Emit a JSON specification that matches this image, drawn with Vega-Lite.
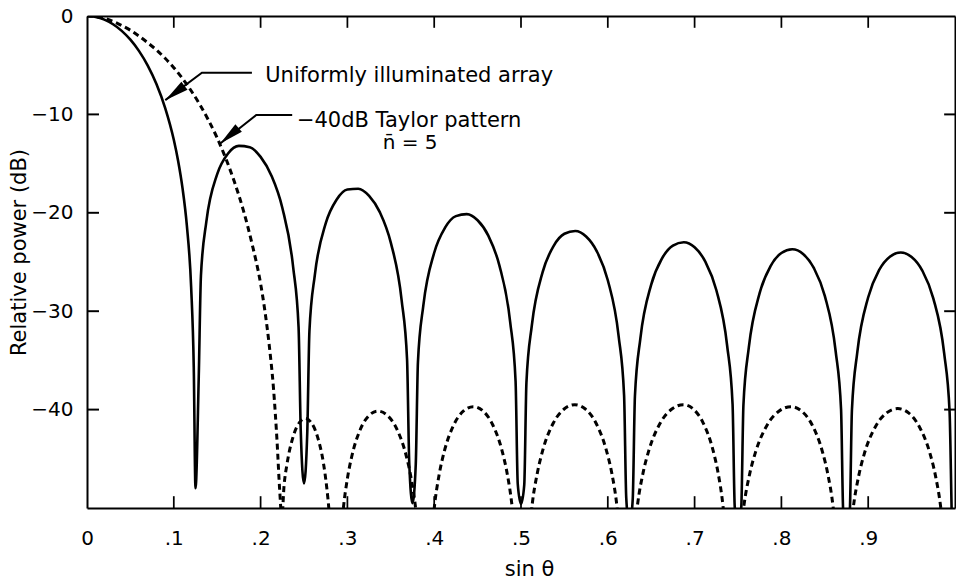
{
  "$schema": "https://vega.github.io/schema/vega-lite/v6.json",
  "width": 868,
  "height": 492,
  "autosize": "none",
  "padding": {"left": 87, "top": 16, "right": 1, "bottom": 71},
  "background": "white",
  "config": {
    "font": "DejaVu Sans",
    "view": {"stroke": null},
    "axis": {
      "grid": false,
      "ticks": false,
      "domainColor": "#000",
      "domainWidth": 2,
      "labelColor": "#000",
      "titleColor": "#000",
      "labelFont": "DejaVu Sans",
      "titleFont": "DejaVu Sans",
      "labelFontSize": 20,
      "titleFontSize": 21,
      "titleFontWeight": "normal",
      "labelOverlap": false,
      "labelFlush": false
    }
  },
  "datasets": {
    "uniform": [
      {"u": 0, "db": 0}, {"u": 0.01, "db": -0.09}, {"u": 0.02, "db": -0.37}, {"u": 0.03, "db": -0.84},
      {"u": 0.04, "db": -1.51}, {"u": 0.05, "db": -2.41}, {"u": 0.06, "db": -3.57}, {"u": 0.07, "db": -5.04},
      {"u": 0.08, "db": -6.91}, {"u": 0.09, "db": -9.33}, {"u": 0.1, "db": -12.58}, {"u": 0.105, "db": -14.73},
      {"u": 0.11, "db": -17.47}, {"u": 0.115, "db": -21.26}, {"u": 0.12, "db": -27.58}, {"u": 0.123, "db": -35.7},
      {"u": 0.125, "db": -48},
      {"u": 0.12875, "db": -36.67}, {"u": 0.13125, "db": -26.42}, {"u": 0.1375, "db": -20.9}, {"u": 0.15, "db": -16.07},
      {"u": 0.1625, "db": -13.97}, {"u": 0.175, "db": -13.2}, {"u": 0.1875, "db": -13.34}, {"u": 0.2, "db": -14.32},
      {"u": 0.2125, "db": -16.23}, {"u": 0.225, "db": -19.49}, {"u": 0.2375, "db": -25.52}, {"u": 0.24375, "db": -31.64},
      {"u": 0.24625, "db": -42.14}, {"u": 0.25, "db": -47.5},
      {"u": 0.25375, "db": -42.38}, {"u": 0.25625, "db": -32.03}, {"u": 0.2625, "db": -26.3}, {"u": 0.275, "db": -21.08},
      {"u": 0.2875, "db": -18.67}, {"u": 0.3, "db": -17.63}, {"u": 0.3125, "db": -17.55}, {"u": 0.325, "db": -18.28},
      {"u": 0.3375, "db": -19.96}, {"u": 0.35, "db": -23.03}, {"u": 0.3625, "db": -28.89}, {"u": 0.36875, "db": -34.94},
      {"u": 0.37125, "db": -45.42}, {"u": 0.375, "db": -49.5},
      {"u": 0.37875, "db": -45.58}, {"u": 0.38125, "db": -35.2}, {"u": 0.3875, "db": -29.41}, {"u": 0.4, "db": -24.06},
      {"u": 0.4125, "db": -21.51}, {"u": 0.425, "db": -20.34}, {"u": 0.4375, "db": -20.13}, {"u": 0.45, "db": -20.76},
      {"u": 0.4625, "db": -22.35}, {"u": 0.475, "db": -25.32}, {"u": 0.4875, "db": -31.08}, {"u": 0.49375, "db": -37.09},
      {"u": 0.49625, "db": -47.55}, {"u": 0.5, "db": -49.6},
      {"u": 0.50375, "db": -47.65}, {"u": 0.50625, "db": -37.26}, {"u": 0.5125, "db": -31.43}, {"u": 0.525, "db": -26.0},
      {"u": 0.5375, "db": -23.38}, {"u": 0.55, "db": -22.13}, {"u": 0.5625, "db": -21.85}, {"u": 0.575, "db": -22.41},
      {"u": 0.5875, "db": -23.94}, {"u": 0.6, "db": -26.85}, {"u": 0.6125, "db": -32.55}, {"u": 0.61875, "db": -38.53},
      {"u": 0.62125, "db": -48.97}, {"u": 0.625, "db": -52},
      {"u": 0.62875, "db": -49.04}, {"u": 0.63125, "db": -38.64}, {"u": 0.6375, "db": -32.78}, {"u": 0.65, "db": -27.3},
      {"u": 0.6625, "db": -24.63}, {"u": 0.675, "db": -23.33}, {"u": 0.6875, "db": -22.99}, {"u": 0.7, "db": -23.51},
      {"u": 0.7125, "db": -24.99}, {"u": 0.725, "db": -27.85}, {"u": 0.7375, "db": -33.51}, {"u": 0.74375, "db": -39.46},
      {"u": 0.74625, "db": -49.9}, {"u": 0.75, "db": -52},
      {"u": 0.75375, "db": -49.94}, {"u": 0.75625, "db": -39.53}, {"u": 0.7625, "db": -33.66}, {"u": 0.775, "db": -28.14},
      {"u": 0.7875, "db": -25.42}, {"u": 0.8, "db": -24.08}, {"u": 0.8125, "db": -23.7}, {"u": 0.825, "db": -24.18},
      {"u": 0.8375, "db": -25.63}, {"u": 0.85, "db": -28.45}, {"u": 0.8625, "db": -34.07}, {"u": 0.86875, "db": -40.0},
      {"u": 0.87125, "db": -50.43}, {"u": 0.875, "db": -52},
      {"u": 0.87875, "db": -50.45}, {"u": 0.88125, "db": -40.04}, {"u": 0.8875, "db": -34.14}, {"u": 0.9, "db": -28.58},
      {"u": 0.9125, "db": -25.83}, {"u": 0.925, "db": -24.46}, {"u": 0.9375, "db": -24.04}, {"u": 0.95, "db": -24.49},
      {"u": 0.9625, "db": -25.9}, {"u": 0.975, "db": -28.69}, {"u": 0.9875, "db": -34.27}, {"u": 0.99375, "db": -40.19},
      {"u": 0.99625, "db": -50.61}, {"u": 1.0, "db": -60}
    ],
    "taylor": [
      {"u": 0, "db": 0}, {"u": 0.01, "db": -0.06}, {"u": 0.02, "db": -0.24}, {"u": 0.03, "db": -0.55},
      {"u": 0.04, "db": -0.97}, {"u": 0.05, "db": -1.45}, {"u": 0.06, "db": -2.05}, {"u": 0.07, "db": -2.72},
      {"u": 0.08, "db": -3.45}, {"u": 0.09, "db": -4.3}, {"u": 0.1, "db": -5.25}, {"u": 0.11, "db": -6.35},
      {"u": 0.12, "db": -7.6}, {"u": 0.13, "db": -9.0}, {"u": 0.14, "db": -10.6}, {"u": 0.15, "db": -12.4},
      {"u": 0.16, "db": -14.5}, {"u": 0.17, "db": -16.9}, {"u": 0.18, "db": -19.7}, {"u": 0.19, "db": -23.1},
      {"u": 0.2, "db": -27.2}, {"u": 0.205, "db": -30.0}, {"u": 0.21, "db": -33.5}, {"u": 0.215, "db": -38.0},
      {"u": 0.219, "db": -43.3}, {"u": 0.222, "db": -48.2}, {"u": 0.2245, "db": -51},
      {"u": 0.227, "db": -47.76}, {"u": 0.2305, "db": -45.5}, {"u": 0.2375, "db": -42.74}, {"u": 0.2445, "db": -41.34},
      {"u": 0.2515, "db": -40.9}, {"u": 0.2585, "db": -41.34}, {"u": 0.2655, "db": -42.74}, {"u": 0.2725, "db": -45.5},
      {"u": 0.276, "db": -47.76}, {"u": 0.2795, "db": -51.1}, {"u": 0.283, "db": -57.0}, {"u": 0.2865, "db": -65},
      {"u": 0.29, "db": -56.26}, {"u": 0.295, "db": -50.35}, {"u": 0.3, "db": -47.01}, {"u": 0.305, "db": -44.77},
      {"u": 0.315, "db": -41.99}, {"u": 0.325, "db": -40.59}, {"u": 0.335, "db": -40.15}, {"u": 0.346, "db": -40.59},
      {"u": 0.357, "db": -41.99}, {"u": 0.368, "db": -44.77}, {"u": 0.3735, "db": -47.01}, {"u": 0.379, "db": -50.35},
      {"u": 0.3845, "db": -56.26}, {"u": 0.3895, "db": -65},
      {"u": 0.3946, "db": -55.81}, {"u": 0.4002, "db": -49.9}, {"u": 0.4058, "db": -46.56}, {"u": 0.4114, "db": -44.32},
      {"u": 0.4226, "db": -41.54}, {"u": 0.4338, "db": -40.14}, {"u": 0.445, "db": -39.7}, {"u": 0.4562, "db": -40.14},
      {"u": 0.4674, "db": -41.54}, {"u": 0.4786, "db": -44.32}, {"u": 0.4842, "db": -46.56}, {"u": 0.4898, "db": -49.9},
      {"u": 0.4954, "db": -55.81}, {"u": 0.5005, "db": -65},
      {"u": 0.5067, "db": -55.61}, {"u": 0.5128, "db": -49.7}, {"u": 0.519, "db": -46.36}, {"u": 0.5251, "db": -44.12},
      {"u": 0.5374, "db": -41.34}, {"u": 0.5497, "db": -39.94}, {"u": 0.562, "db": -39.5}, {"u": 0.5741, "db": -39.94},
      {"u": 0.5862, "db": -41.34}, {"u": 0.5983, "db": -44.12}, {"u": 0.6044, "db": -46.36}, {"u": 0.6104, "db": -49.7},
      {"u": 0.6165, "db": -55.61}, {"u": 0.621, "db": -65},
      {"u": 0.6276, "db": -55.61}, {"u": 0.6342, "db": -49.7}, {"u": 0.6408, "db": -46.36}, {"u": 0.6474, "db": -44.12},
      {"u": 0.6606, "db": -41.34}, {"u": 0.6738, "db": -39.94}, {"u": 0.687, "db": -39.5}, {"u": 0.6984, "db": -39.94},
      {"u": 0.7098, "db": -41.34}, {"u": 0.7212, "db": -44.12}, {"u": 0.7269, "db": -46.36}, {"u": 0.7326, "db": -49.7},
      {"u": 0.7383, "db": -55.61}, {"u": 0.7435, "db": -65},
      {"u": 0.7498, "db": -55.81}, {"u": 0.7566, "db": -49.9}, {"u": 0.7634, "db": -46.56}, {"u": 0.7702, "db": -44.32},
      {"u": 0.7838, "db": -41.54}, {"u": 0.7974, "db": -40.14}, {"u": 0.811, "db": -39.7}, {"u": 0.8231, "db": -40.14},
      {"u": 0.8353, "db": -41.54}, {"u": 0.8474, "db": -44.32}, {"u": 0.8535, "db": -46.56}, {"u": 0.8596, "db": -49.9},
      {"u": 0.8656, "db": -55.81}, {"u": 0.871, "db": -65},
      {"u": 0.8761, "db": -56.01}, {"u": 0.8826, "db": -50.1}, {"u": 0.889, "db": -46.76}, {"u": 0.8954, "db": -44.52},
      {"u": 0.9083, "db": -41.74}, {"u": 0.9211, "db": -40.34}, {"u": 0.934, "db": -39.9}, {"u": 0.9465, "db": -40.34},
      {"u": 0.9589, "db": -41.74}, {"u": 0.9714, "db": -44.52}, {"u": 0.9776, "db": -46.76}, {"u": 0.9838, "db": -50.1},
      {"u": 0.9901, "db": -56.01}, {"u": 0.996, "db": -65}
    ],
    "tickbars": [
      {"xa": 0.099, "xb": 0.101, "ya": -50, "yb": -48.8}, {"xa": 0.199, "xb": 0.201, "ya": -50, "yb": -48.8},
      {"xa": 0.299, "xb": 0.301, "ya": -50, "yb": -48.8}, {"xa": 0.399, "xb": 0.401, "ya": -50, "yb": -48.8},
      {"xa": 0.499, "xb": 0.501, "ya": -50, "yb": -48.8}, {"xa": 0.599, "xb": 0.601, "ya": -50, "yb": -48.8},
      {"xa": 0.699, "xb": 0.701, "ya": -50, "yb": -48.8}, {"xa": 0.799, "xb": 0.801, "ya": -50, "yb": -48.8},
      {"xa": 0.899, "xb": 0.901, "ya": -50, "yb": -48.8},
      {"xa": 0.099, "xb": 0.101, "ya": 0, "yb": -1.2}, {"xa": 0.199, "xb": 0.201, "ya": 0, "yb": -1.2},
      {"xa": 0.299, "xb": 0.301, "ya": 0, "yb": -1.2}, {"xa": 0.399, "xb": 0.401, "ya": 0, "yb": -1.2},
      {"xa": 0.499, "xb": 0.501, "ya": 0, "yb": -1.2}, {"xa": 0.599, "xb": 0.601, "ya": 0, "yb": -1.2},
      {"xa": 0.699, "xb": 0.701, "ya": 0, "yb": -1.2}, {"xa": 0.799, "xb": 0.801, "ya": 0, "yb": -1.2},
      {"xa": 0.899, "xb": 0.901, "ya": 0, "yb": -1.2},
      {"xa": 0, "xb": 0.0138, "ya": -9.9, "yb": -10.1}, {"xa": 0, "xb": 0.0138, "ya": -19.9, "yb": -20.1},
      {"xa": 0, "xb": 0.0138, "ya": -29.9, "yb": -30.1}, {"xa": 0, "xb": 0.0138, "ya": -39.9, "yb": -40.1},
      {"xa": 0.9875, "xb": 1, "ya": -9.9, "yb": -10.1}, {"xa": 0.9875, "xb": 1, "ya": -19.9, "yb": -20.1},
      {"xa": 0.9875, "xb": 1, "ya": -29.9, "yb": -30.1}, {"xa": 0.9875, "xb": 1, "ya": -39.9, "yb": -40.1}
    ],
    "leaders": [
      {"id": "a", "o": 1, "u": 0.19, "db": -5.77},
      {"id": "a", "o": 2, "u": 0.1324, "db": -5.77},
      {"id": "a", "o": 3, "u": 0.0902, "db": -8.55},
      {"id": "b", "o": 1, "u": 0.2364, "db": -10.07},
      {"id": "b", "o": 2, "u": 0.195, "db": -10.07},
      {"id": "b", "o": 3, "u": 0.1535, "db": -12.95}
    ],
    "heads": [
      {"u": 0.0902, "db": -8.55, "ang": 233},
      {"u": 0.1535, "db": -12.95, "ang": 230}
    ],
    "notesLeft": [
      {"u": 0.2053, "db": -6.68, "text": "Uniformly illuminated array"},
      {"u": 0.2418, "db": -11.26, "text": "−40dB Taylor pattern"}
    ],
    "notesCenter": [
      {"u": 0.3722, "db": -13.5, "text": "n̄ = 5"}
    ]
  },
  "layer": [
    {
      "data": {"name": "taylor"},
      "mark": {"type": "line", "color": "#000", "strokeWidth": 3, "strokeDash": [6, 4], "interpolate": "monotone", "clip": true},
      "encoding": {
        "x": {"field": "u", "type": "quantitative", "scale": {"domain": [0, 1], "nice": false, "zero": false},
          "axis": {"orient": "top", "values": [0.5], "labels": false, "title": null}},
        "y": {"field": "db", "type": "quantitative", "scale": {"domain": [-50, 0], "nice": false, "zero": false},
          "axis": {"orient": "right", "values": [-20], "labels": false, "title": null}}
      }
    },
    {
      "data": {"name": "uniform"},
      "mark": {"type": "line", "color": "#000", "strokeWidth": 2.6, "interpolate": "monotone", "clip": true},
      "encoding": {
        "x": {"field": "u", "type": "quantitative", "scale": {"domain": [0, 1], "nice": false, "zero": false},
          "axis": {"orient": "bottom", "values": [0, 0.1, 0.2, 0.3, 0.4, 0.5, 0.6, 0.7, 0.8, 0.9],
            "labelExpr": "datum.value === 0 ? '0' : replace(format(datum.value, '.1f'), '0.', '.')",
            "labelPadding": 20, "title": "sin θ", "titleX": 442, "titleY": 67, "titleBaseline": "alphabetic", "titleAlign": "center", "titleAnchor": null}},
        "y": {"field": "db", "type": "quantitative", "scale": {"domain": [-50, 0], "nice": false, "zero": false},
          "axis": {"orient": "left", "values": [-40, -30, -20, -10, 0],
            "labelExpr": "datum.value === 0 ? '0' : '−' + format(-datum.value, 'd')",
            "labelPadding": 14, "title": "Relative power (dB)", "titleX": -62, "titleY": 236, "titleAngle": -90, "titleBaseline": "alphabetic", "titleAlign": "center", "titleAnchor": null}}
      }
    },
    {
      "data": {"name": "tickbars"},
      "mark": {"type": "rect", "color": "#000", "opacity": 1},
      "encoding": {
        "x": {"field": "xa", "type": "quantitative", "axis": null},
        "x2": {"field": "xb"},
        "y": {"field": "ya", "type": "quantitative", "axis": null},
        "y2": {"field": "yb"}
      }
    },
    {
      "data": {"name": "leaders"},
      "mark": {"type": "line", "color": "#000", "strokeWidth": 2},
      "encoding": {
        "x": {"field": "u", "type": "quantitative", "axis": null},
        "y": {"field": "db", "type": "quantitative", "axis": null},
        "detail": {"field": "id", "type": "nominal"},
        "order": {"field": "o", "type": "quantitative"}
      }
    },
    {
      "data": {"name": "heads"},
      "mark": {"type": "point", "shape": "M0,0L-0.42,2L0.42,2Z", "filled": true, "color": "#000", "opacity": 1, "size": 576, "strokeWidth": 0},
      "encoding": {
        "x": {"field": "u", "type": "quantitative", "axis": null},
        "y": {"field": "db", "type": "quantitative", "axis": null},
        "angle": {"field": "ang", "type": "quantitative", "scale": null}
      }
    },
    {
      "data": {"name": "notesLeft"},
      "mark": {"type": "text", "align": "left", "baseline": "alphabetic", "fontSize": 21, "font": "DejaVu Sans", "color": "#000"},
      "encoding": {
        "x": {"field": "u", "type": "quantitative", "axis": null},
        "y": {"field": "db", "type": "quantitative", "axis": null},
        "text": {"field": "text", "type": "nominal"}
      }
    },
    {
      "data": {"name": "notesCenter"},
      "mark": {"type": "text", "align": "center", "baseline": "alphabetic", "fontSize": 20, "font": "DejaVu Sans", "color": "#000"},
      "encoding": {
        "x": {"field": "u", "type": "quantitative", "axis": null},
        "y": {"field": "db", "type": "quantitative", "axis": null},
        "text": {"field": "text", "type": "nominal"}
      }
    }
  ],
  "resolve": {"axis": {"x": "independent", "y": "independent"}}
}
